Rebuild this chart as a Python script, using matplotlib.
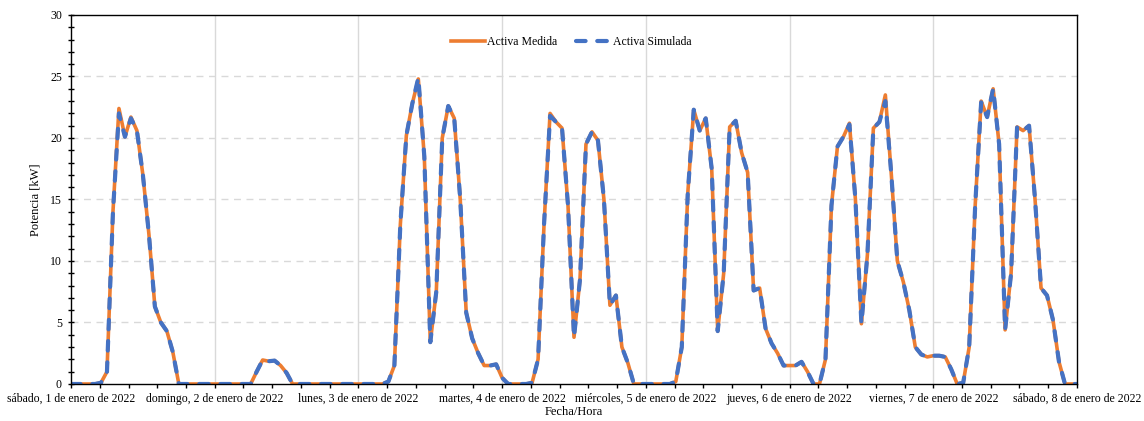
import numpy as np
import matplotlib
matplotlib.use("Agg")
import matplotlib.pyplot as plt
from matplotlib.ticker import MultipleLocator, FixedLocator
from matplotlib.lines import Line2D

# Hourly active power [kW], one list per day (00:00 .. 23:00), 1-8 Jan 2022
medida_dias = [
    [0, 0, 0, 0, 0, 0.1, 1.0, 14.0, 22.4, 20.1, 21.7, 20.6, 17.0, 12.2, 6.3, 5.0, 4.3, 2.6, 0, 0, 0, 0, 0, 0],
    [0, 0, 0, 0, 0, 0, 0, 1.0, 1.95, 1.85, 1.9, 1.5, 0.9, 0, 0, 0, 0, 0, 0, 0, 0, 0, 0, 0],
    [0, 0, 0, 0, 0, 0.2, 1.5, 13.0, 20.2, 22.8, 24.8, 18.5, 3.4, 7.5, 20.0, 22.6, 21.6, 15.0, 5.8, 3.7, 2.5, 1.5, 1.5, 1.6],
    [0.5, 0, 0, 0, 0, 0.1, 2.0, 13.0, 22.0, 21.3, 20.8, 14.5, 3.8, 8.5, 19.5, 20.5, 19.8, 15.0, 6.4, 7.2, 3.0, 1.7, 0, 0],
    [0, 0, 0, 0, 0, 0.2, 3.0, 15.5, 22.3, 20.6, 21.6, 17.5, 4.3, 9.0, 20.9, 21.4, 18.8, 17.2, 7.6, 7.8, 4.5, 3.3, 2.5, 1.5],
    [1.5, 1.5, 1.8, 1.0, 0, 0, 2.0, 14.5, 19.3, 20.1, 21.2, 15.0, 4.9, 10.5, 20.8, 21.3, 23.5, 17.0, 10.0, 8.3, 6.0, 3.0, 2.4, 2.2],
    [2.3, 2.3, 2.2, 1.2, 0, 0.1, 3.0, 14.5, 23.0, 21.7, 24.0, 19.5, 4.4, 9.0, 20.9, 20.6, 21.0, 15.0, 7.8, 7.2, 5.2, 1.8, 0, 0],
]
simulada_dias = [
    [0, 0, 0, 0, 0, 0.1, 1.0, 14.0, 22.0, 20.1, 21.6, 20.6, 17.0, 12.2, 6.3, 5.0, 4.3, 2.6, 0, 0, 0, 0, 0, 0],
    [0, 0, 0, 0, 0, 0, 0, 1.0, 1.95, 1.85, 1.9, 1.5, 0.9, 0, 0, 0, 0, 0, 0, 0, 0, 0, 0, 0],
    [0, 0, 0, 0, 0, 0.2, 1.5, 13.0, 20.2, 22.8, 24.9, 18.5, 3.4, 7.5, 20.0, 22.6, 21.6, 15.0, 5.8, 3.7, 2.5, 1.5, 1.5, 1.6],
    [0.5, 0, 0, 0, 0, 0.1, 2.0, 13.0, 21.8, 21.3, 20.8, 14.5, 3.8, 8.5, 19.5, 20.5, 19.8, 15.0, 6.4, 7.2, 3.0, 1.7, 0, 0],
    [0, 0, 0, 0, 0, 0.2, 3.0, 15.5, 22.3, 20.6, 21.6, 17.5, 4.3, 9.0, 20.9, 21.4, 18.8, 17.2, 7.6, 7.8, 4.5, 3.3, 2.5, 1.5],
    [1.5, 1.5, 1.8, 1.0, 0, 0, 2.0, 14.5, 19.3, 20.1, 21.1, 15.0, 4.9, 10.5, 20.8, 21.3, 23.0, 17.0, 10.0, 8.3, 6.0, 3.0, 2.4, 2.2],
    [2.3, 2.3, 2.2, 1.2, 0, 0.1, 3.0, 14.5, 22.9, 21.7, 24.0, 19.5, 4.4, 9.0, 20.9, 20.6, 21.0, 15.0, 7.8, 7.2, 5.2, 1.8, 0, 0],
]
valor_final = 0.0  # sábado 8 de enero, 00:00

etiquetas_dias = [
    "sábado, 1 de enero de 2022",
    "domingo, 2 de enero de 2022",
    "lunes, 3 de enero de 2022",
    "martes, 4 de enero de 2022",
    "miércoles, 5 de enero de 2022",
    "jueves, 6 de enero de 2022",
    "viernes, 7 de enero de 2022",
    "sábado, 8 de enero de 2022",
]

medida = np.array([v for dia in medida_dias for v in dia] + [valor_final])
simulada = np.array([v for dia in simulada_dias for v in dia] + [valor_final])
t = np.arange(len(medida)) / 24.0  # time in days since 1 Jan 00:00

plt.rcParams["font.family"] = ["Liberation Serif", "DejaVu Serif"]

fig = plt.figure(figsize=(11.44, 4.21), dpi=100)
ax = fig.add_axes([0.0621, 0.0879, 0.8793, 0.8765])

naranja = "#ED7D31"
azul = "#4472C4"

ax.plot(t, medida, color=naranja, lw=2.6, solid_capstyle="round",
        solid_joinstyle="round", label="Activa Medida", zorder=3)
ax.plot(t, simulada, color=azul, lw=3.0, dashes=(2.3, 2.8),
        dash_capstyle="round", dash_joinstyle="round",
        label="Activa Simulada", zorder=4)

ax.set_xlim(0, 7)
ax.set_ylim(0, 30)

# y axis: major every 5, minor every 1, ticks crossing the spine
ax.yaxis.set_major_locator(MultipleLocator(5))
ax.yaxis.set_minor_locator(MultipleLocator(1))
ax.tick_params(axis="y", which="both", direction="inout", length=4.2, width=1.0,
               labelsize=8.5, pad=4.5, colors="black")

# x axis: labels at each day, ticks every 0.2 day
ax.xaxis.set_major_locator(FixedLocator(np.arange(8)))
ax.set_xticklabels(etiquetas_dias)
ax.xaxis.set_minor_locator(FixedLocator([i * 0.2 for i in range(36) if i % 5]))
ax.tick_params(axis="x", which="both", direction="out", length=3.2, width=1.0,
               labelsize=8.5, pad=3)

# grid: dashed horizontals, solid verticals at the day boundaries
for y in range(5, 30, 5):
    ax.axhline(y, color="#d9d9d9", lw=1.0, dashes=(5, 4), zorder=1)
for d in range(1, 7):
    ax.axvline(d, color="#d9d9d9", lw=1.0, zorder=1)

for s in ax.spines.values():
    s.set_color("black")
    s.set_linewidth(1.0)
    s.set_zorder(5)

ax.set_ylabel("Potencia [kW]", fontsize=9, labelpad=6)
ax.set_xlabel("Fecha/Hora", fontsize=9, labelpad=1)

h_med = Line2D([], [], color=naranja, lw=2.6)
h_sim = Line2D([], [], color=azul, lw=3.0, dashes=(2.3, 2.8), dash_capstyle="round")
ax.legend([h_med, h_sim], ["Activa Medida", "Activa Simulada"], loc="center",
          bbox_to_anchor=(0.497, 0.927), ncol=2, frameon=False, fontsize=8.5,
          handlelength=2.9, handletextpad=0.2, columnspacing=1.6)

fig.savefig("out.png", dpi=100)
